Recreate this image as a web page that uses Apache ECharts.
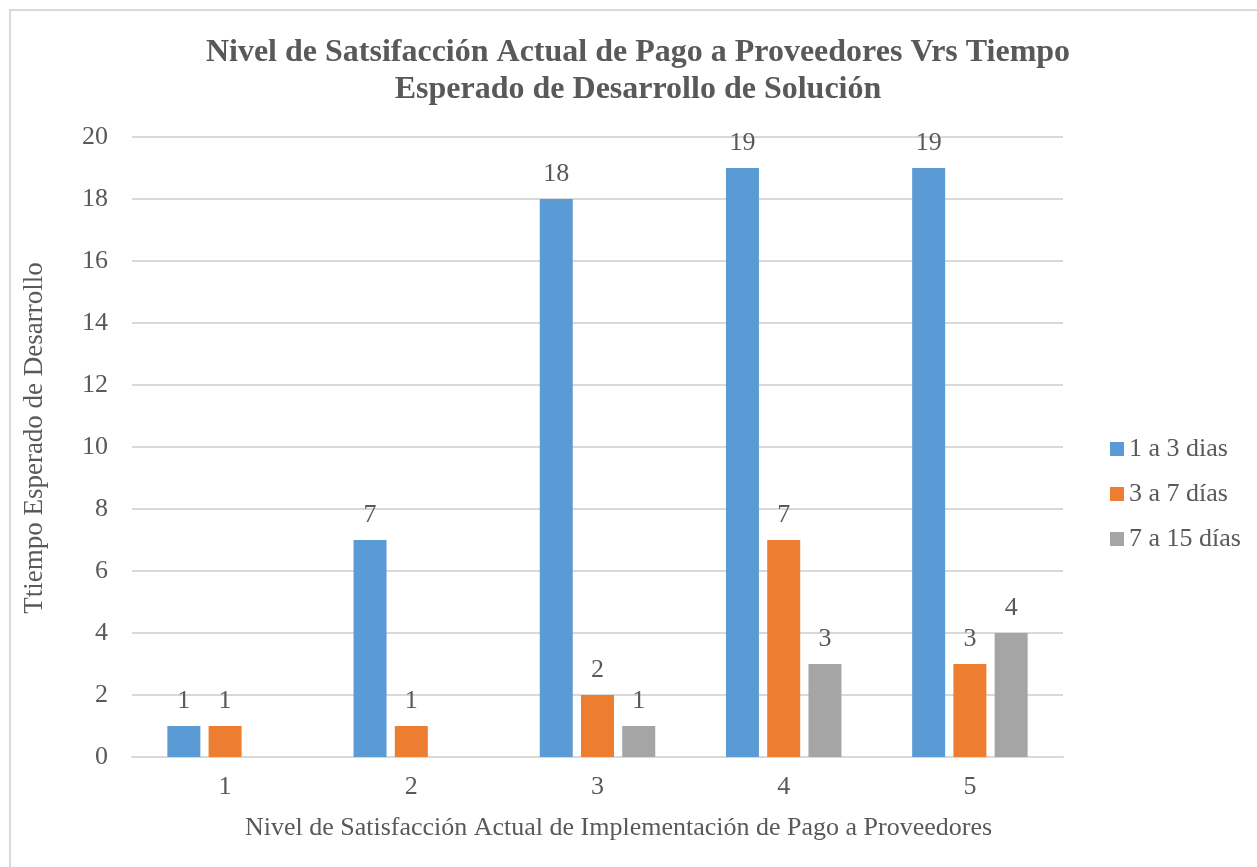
<!DOCTYPE html>
<html>
<head>
<meta charset="utf-8">
<script src="https://cdn.jsdelivr.net/npm/echarts@6/dist/echarts.min.js"></script>
<style>
  html, body { margin: 0; padding: 0; background: #fff; }
  #chart { width: 1257px; height: 867px; }
</style>
</head>
<body>
<div id="chart"></div>
<script>
const categories = ['1', '2', '3', '4', '5']
const seriesNames = ['1 a 3 dias', '3 a 7 días', '7 a 15 días']
const dias1a3 = [1, 7, 18, 19, 19]
const dias3a7 = [1, 1, 2, 7, 3]
const dias7a15 = ['-', '-', 1, 3, 4]
const colors = ['#5b9bd5', '#ed7d31', '#a5a5a5']

const font = '"Liberation Serif", "Times New Roman", serif'
const textColor = '#595959'

const chart = echarts.init(document.getElementById('chart'))

const makeSeries = (name, data, color) => ({
    name: name,
    type: 'bar',
    data: data,
    barWidth: 33,
    barGap: '25%',
    itemStyle: { color: color },
    label: {
        show: true,
        position: 'top',
        distance: 12,
        color: textColor,
        fontFamily: font,
        fontSize: 26
    }
})

const option = {
    textStyle: { fontFamily: font },
    title: {
        text: 'Nivel de Satsifacción Actual de Pago a Proveedores Vrs Tiempo\nEsperado de Desarrollo de Solución',
        left: 633,
        top: 29,
        textAlign: 'center',
        textStyle: {
            fontFamily: font,
            fontSize: 32,
            fontWeight: 'bold',
            color: textColor,
            lineHeight: 37
        }
    },
    // marco gris alrededor del gráfico
    graphic: [{
        type: 'rect',
        shape: { x: 10, y: 10, width: 1300, height: 900 },
        style: { fill: 'none', stroke: '#d9d9d9', lineWidth: 2 },
        silent: true
    }],
    legend: {
        orient: 'vertical',
        left: 1105,
        top: 431,
        itemWidth: 14,
        itemHeight: 14,
        itemGap: 19,
        icon: 'rect',
        textStyle: { fontFamily: font, fontSize: 26, color: textColor }
    },
    grid: { left: 132, right: 194, top: 137, bottom: 110, containLabel: false },
    xAxis: {
        type: 'category',
        data: categories,
        name: 'Nivel de Satisfacción Actual de Implementación de Pago a Proveedores',
        nameLocation: 'middle',
        nameGap: 58,
        nameTextStyle: { fontFamily: font, fontSize: 26, color: textColor, padding: [0, 0, 0, 42] },
        axisLine: { lineStyle: { color: '#d9d9d9', width: 2 } },
        axisTick: { show: false },
        axisLabel: { fontFamily: font, fontSize: 26, color: textColor, margin: 17 }
    },
    yAxis: {
        type: 'value',
        min: 0,
        max: 20,
        interval: 2,
        name: 'Ttiempo Esperado de Desarrollo',
        nameLocation: 'middle',
        nameGap: 84,
        nameTextStyle: { fontFamily: font, fontSize: 27, color: textColor, padding: [0, 0, 0, 18] },
        axisLine: { show: false },
        axisTick: { show: false },
        splitLine: { lineStyle: { color: '#d9d9d9', width: 2 } },
        axisLabel: { fontFamily: font, fontSize: 26, color: textColor, margin: 24 }
    },
    series: [
        makeSeries(seriesNames[0], dias1a3, colors[0]),
        makeSeries(seriesNames[1], dias3a7, colors[1]),
        makeSeries(seriesNames[2], dias7a15, colors[2])
    ]
}

chart.setOption(option)
</script>
</body>
</html>
